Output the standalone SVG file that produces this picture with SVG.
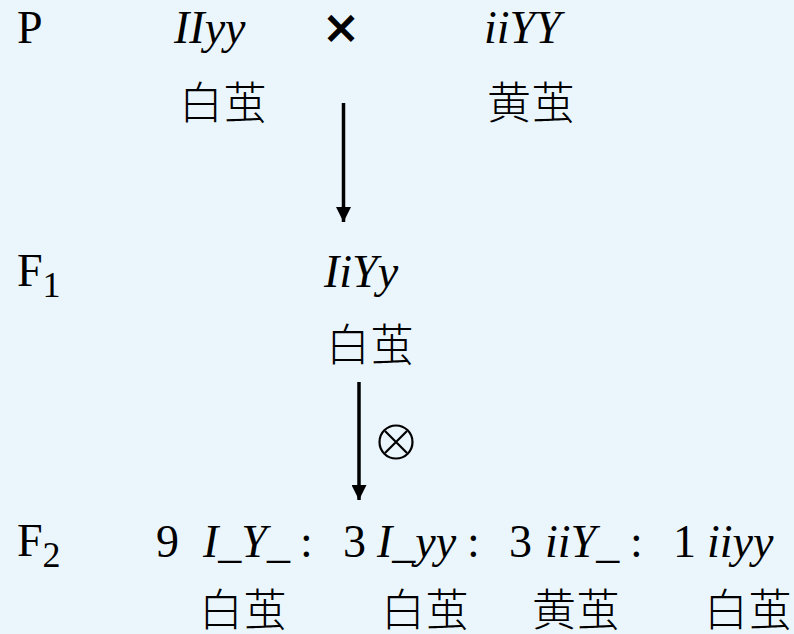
<svg xmlns="http://www.w3.org/2000/svg" width="794" height="634" viewBox="0 0 794 634">
<defs>
<style>
.lat{font-family:"Liberation Serif","Times New Roman",serif;font-size:46px;fill:#000}
.it{font-style:italic}
.sub{font-size:36px}
.cjk{font-family:"Noto Sans CJK SC","Noto Sans",sans-serif;font-size:44px;font-weight:300;fill:#000}
.sym{font-family:"DejaVu Sans",sans-serif;fill:#000}
.conn{stroke:#000;stroke-width:3.5;fill:none}
</style>
<marker id="ah" markerWidth="15" markerHeight="15" viewBox="0 0 15 15" refX="15" refY="7.5" orient="auto" markerUnits="userSpaceOnUse">
<path d="M0,0 L15,7.5 L0,15 Z" fill="#000"/>
</marker>
</defs>
<rect width="794" height="634" fill="#EBF6FC"/>
<g id="row-P">
<text class="lat" x="17" y="43">P</text>
<text class="lat it" x="174" y="43">IIyy</text>
<text class="sym" x="341" y="43" font-size="46" font-weight="bold" text-anchor="middle">×</text>
<text class="lat it" x="484" y="43">iiYY</text>
</g>
<g id="P-white"><text class="cjk" x="179" y="119">白茧</text></g>
<g id="P-yellow"><text class="cjk" x="487" y="119">黄茧</text></g>
<g id="row-F1">
<text class="lat" x="17" y="286">F<tspan class="sub" dy="11">1</tspan></text>
<text class="lat it" x="324" y="287">IiYy</text>
<text class="cjk" x="326" y="361">白茧</text>
</g>
<g id="selfing"><circle cx="396" cy="442" r="16.5" fill="none" stroke="#000" stroke-width="2.2"/><path d="M385,431 L407,453 M407,431 L385,453" stroke="#000" stroke-width="2.2"/></g>
<g id="row-F2">
<text class="lat" x="17" y="556">F<tspan class="sub" dy="11">2</tspan></text>
<text class="lat" x="156" y="557">9</text>
<text class="lat it" x="203" y="557">I_Y_</text>
<text class="lat" x="300" y="557">:</text>
<text class="lat" x="343" y="557">3</text>
<text class="lat it" x="377" y="557">I_yy</text>
<text class="lat" x="467" y="557">:</text>
<text class="lat" x="509" y="557">3</text>
<text class="lat it" x="545" y="557">iiY_</text>
<text class="lat" x="630" y="557">:</text>
<text class="lat" x="673" y="557">1</text>
<text class="lat it" x="707" y="557">iiyy</text>
</g>
<g id="F2-phenotypes">
<text class="cjk" x="199" y="626">白茧</text>
<text class="cjk" x="381" y="626">白茧</text>
<text class="cjk" x="532" y="626">黄茧</text>
<text class="cjk" x="704" y="626">白茧</text>
</g>
<g id="connectors">
<line class="conn" x1="343.5" y1="103" x2="343.5" y2="222" marker-end="url(#ah)"/>
<line class="conn" x1="359" y1="382" x2="359" y2="500" marker-end="url(#ah)"/>
</g>
</svg>
